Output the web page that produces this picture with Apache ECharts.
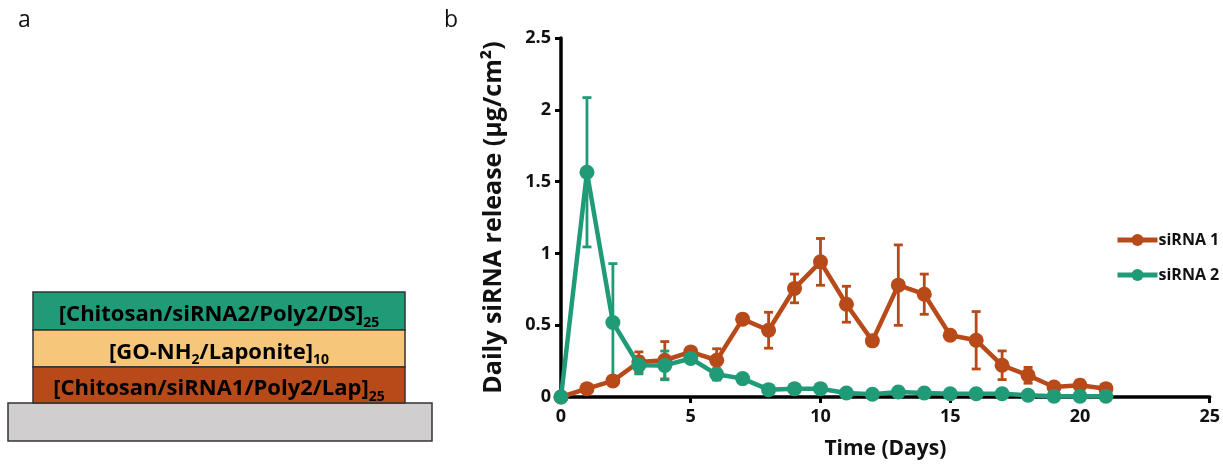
<!DOCTYPE html>
<html>
<head>
<meta charset="utf-8">
<script src="https://cdn.jsdelivr.net/npm/echarts@6/dist/echarts.min.js"></script>
<style>
  html, body { margin: 0; padding: 0; background: #ffffff; }
  #chart { width: 1223px; height: 469px; }
</style>
</head>
<body>
<div id="chart"></div>
<script>
// Release time points (days)
const days = [0, 1, 2, 3, 4, 5, 6, 7, 8, 9, 10, 11, 12, 13, 14, 15, 16, 17, 18, 19, 20, 21];

// Daily release, µg/cm², with standard deviations
const sirna1 = [0, 0.058, 0.112, 0.244, 0.256, 0.314, 0.256, 0.542, 0.465, 0.756, 0.941, 0.646, 0.391, 0.779, 0.716, 0.43, 0.395, 0.221, 0.151, 0.07, 0.082, 0.058];
const sirna1Err = [0, 0, 0, 0.07, 0.13, 0.02, 0.08, 0, 0.125, 0.1, 0.163, 0.125, 0, 0.28, 0.14, 0, 0.2, 0.1, 0.055, 0, 0.035, 0];
const sirna2 = [0, 1.565, 0.519, 0.221, 0.22, 0.268, 0.158, 0.128, 0.051, 0.058, 0.058, 0.028, 0.019, 0.035, 0.028, 0.023, 0.023, 0.023, 0.012, 0.005, 0.005, 0.005];
const sirna2Err = [0, 0.52, 0.41, 0.06, 0.1, 0.02, 0.04, 0, 0, 0, 0, 0, 0, 0, 0, 0, 0, 0, 0, 0, 0, 0];

const seriesNames = ['siRNA 1', 'siRNA 2'];
const layerLabels = [
  ['[Chitosan/siRNA2/Poly2/DS]', '25'],
  ['[GO-NH', '2', '/Laponite]', '10'],
  ['[Chitosan/siRNA1/Poly2/Lap]', '25']
];

const ORANGE = '#B84A1A';
const GREEN = '#1F9B78';
const FONT = '"Open Sans", Lato, sans-serif';

const chart = echarts.init(document.getElementById('chart'), null, { renderer: 'canvas' });

function pairs(values) {
  return days.map((d, i) => [d, values[i]]);
}

function errorData(values, errs) {
  return days.map((d, i) => [d, values[i] - errs[i], values[i] + errs[i]]).filter((r, i) => errs[i] > 0);
}

function errorRender(color) {
  return function (params, api) {
    const x = api.value(0);
    const lo = api.coord([x, api.value(1)]);
    const hi = api.coord([x, api.value(2)]);
    const cap = 4.5;
    const style = { stroke: color, lineWidth: 2.8 };
    return {
      type: 'group',
      children: [
        { type: 'line', shape: { x1: lo[0], y1: lo[1], x2: hi[0], y2: hi[1] }, style },
        { type: 'line', shape: { x1: lo[0] - cap, y1: lo[1], x2: lo[0] + cap, y2: lo[1] }, style },
        { type: 'line', shape: { x1: hi[0] - cap, y1: hi[1], x2: hi[0] + cap, y2: hi[1] }, style }
      ]
    };
  };
}

// Layer stack of panel a
const stackLeft = 33, stackRight = 405;
const layerTops = [292, 330, 367];
const layerBottoms = [330, 367, 403];
const layerColors = [GREEN, '#F6C67A', ORANGE];

const labelRich = {
  m: { fontSize: 22, fontWeight: 'bold', fontFamily: FONT, color: '#111', lineHeight: 28, verticalAlign: 'bottom' },
  s: { fontSize: 14, fontWeight: 'bold', fontFamily: FONT, color: '#111', lineHeight: 16, verticalAlign: 'bottom', padding: [0, 0, -4, 0] }
};

function labelText(parts) {
  return parts.map((p, i) => (i % 2 === 0 ? '{m|' + p + '}' : '{s|' + p + '}')).join('');
}

const graphics = [
  { type: 'text', left: 18, top: 9, style: { text: 'a', fontSize: 23, fontFamily: FONT, fill: '#111' } },
  { type: 'text', left: 444, top: 9, style: { text: 'b', fontSize: 23, fontFamily: FONT, fill: '#111' } },
  {
    type: 'rect',
    shape: { x: 8, y: 403, width: 424, height: 38 },
    style: { fill: '#D0CECE', stroke: '#333', lineWidth: 1.5 }
  }
];
layerTops.forEach((t, i) => {
  graphics.push({
    type: 'rect',
    shape: { x: stackLeft, y: t, width: stackRight - stackLeft, height: layerBottoms[i] - t },
    style: { fill: layerColors[i], stroke: '#333', lineWidth: 1.5 }
  });
  graphics.push({
    type: 'text',
    x: (stackLeft + stackRight) / 2,
    y: (t + layerBottoms[i]) / 2 + 1,
    style: {
      text: labelText(layerLabels[i]),
      rich: labelRich,
      align: 'center',
      verticalAlign: 'middle'
    },
    z: 10
  });
});

const axisLine = { show: true, lineStyle: { color: '#000', width: 3.5 } };
const axisTick = { show: true, inside: false, length: 6, lineStyle: { color: '#000', width: 3 } };
const tickLabel = { fontSize: 18, fontWeight: 'bold', fontFamily: FONT, color: '#111' };

chart.setOption({
  animation: false,
  backgroundColor: '#ffffff',
  graphic: graphics,
  grid: { left: 561, right: 12, top: 38, bottom: 72, containLabel: false },
  legend: {
    orient: 'vertical',
    left: 1110,
    top: 227,
    itemWidth: 40,
    itemHeight: 15,
    itemGap: 19,
    data: seriesNames,
    lineStyle: { width: 5 },
    textStyle: { fontSize: 16, fontWeight: 'bold', fontFamily: FONT, color: '#111', padding: [0, 0, 0, -4] }
  },
  xAxis: {
    type: 'value',
    min: 0,
    max: 25,
    interval: 5,
    name: 'Time (Days)',
    nameLocation: 'middle',
    nameGap: 42,
    nameTextStyle: { fontSize: 21, fontWeight: 'bold', fontFamily: FONT, color: '#111' },
    axisLine,
    axisTick,
    axisLabel: Object.assign({ margin: 11 }, tickLabel),
    splitLine: { show: false }
  },
  yAxis: {
    type: 'value',
    min: 0,
    max: 2.5,
    interval: 0.5,
    name: 'Daily siRNA release (µg/cm²)',
    nameLocation: 'middle',
    nameGap: 55,
    nameTextStyle: { fontSize: 25, fontWeight: 'bold', fontFamily: FONT, color: '#111' },
    axisLine,
    axisTick,
    axisLabel: Object.assign({ margin: 10 }, tickLabel),
    splitLine: { show: false }
  },
  series: [
    {
      type: 'custom',
      name: 'err1',
      renderItem: errorRender(ORANGE),
      data: errorData(sirna1, sirna1Err),
      encode: { x: 0, y: [1, 2] },
      z: 1,
      silent: true
    },
    {
      type: 'custom',
      name: 'err2',
      renderItem: errorRender(GREEN),
      data: errorData(sirna2, sirna2Err),
      encode: { x: 0, y: [1, 2] },
      z: 1,
      silent: true
    },
    {
      type: 'line',
      name: seriesNames[0],
      data: pairs(sirna1),
      symbol: 'circle',
      symbolSize: 15,
      showAllSymbol: true,
      color: ORANGE,
      lineStyle: { width: 4.5, color: ORANGE },
      itemStyle: { color: ORANGE },
      z: 2
    },
    {
      type: 'line',
      name: seriesNames[1],
      data: pairs(sirna2),
      symbol: 'circle',
      symbolSize: 15,
      showAllSymbol: true,
      color: GREEN,
      lineStyle: { width: 4.5, color: GREEN },
      itemStyle: { color: GREEN },
      z: 3
    }
  ]
});
</script>
</body>
</html>
